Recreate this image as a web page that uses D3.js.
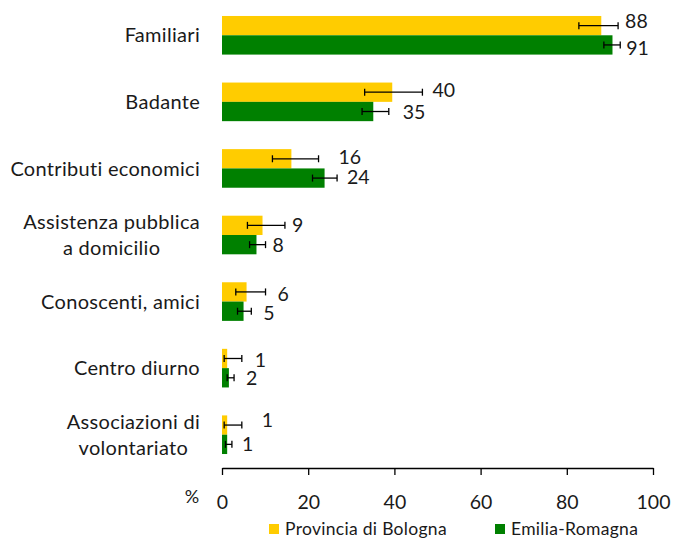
<!DOCTYPE html>
<html>
<head>
    <meta charset="UTF-8">
    <title>Aiuti</title>
    <style>
        body { margin: 0; background: #fff; }
        text { font-family: Lato, "Open Sans", sans-serif; }
    </style>
</head>
<body>
    <svg id="chart"></svg>
    <script src="https://cdn.jsdelivr.net/npm/d3@7"></script>
    <script>
        const width = 673;
        const height = 538;

        // dati
        const categories = [
            ['Familiari'],
            ['Badante'],
            ['Contributi economici'],
            ['Assistenza pubblica', 'a domicilio'],
            ['Conoscenti, amici'],
            ['Centro diurno'],
            ['Associazioni di', 'volontariato']
        ];
        const seriesNames = ['Provincia di Bologna', 'Emilia-Romagna'];
        const bologna = [88.0, 39.5, 16.1, 9.4, 5.7, 1.2, 1.2];
        const bolognaLo = [82.8, 33.1, 11.7, 5.9, 3.2, 0.5, 0.5];
        const bolognaHi = [91.9, 46.5, 22.4, 14.6, 10.1, 4.6, 4.6];
        const bolognaLabels = ['88', '40', '16', '9', '6', '1', '1'];
        const emilia = [90.6, 35.1, 23.8, 8.0, 5.0, 1.6, 1.2];
        const emiliaLo = [88.6, 32.5, 21.0, 6.4, 3.6, 1.2, 0.8];
        const emiliaHi = [92.4, 38.7, 26.7, 10.1, 6.8, 2.8, 2.3];
        const emiliaLabels = ['91', '35', '24', '8', '5', '2', '1'];
        const xTicks = [0, 20, 40, 60, 80, 100];

        // spostamenti delle etichette (px), come nell'originale
        const bolognaDx = [7, 10, 20, 7, 12, 13, 20];
        const bolognaDy = [-5, -2, -2, 0, 2, 1, -5];
        const emiliaDx = [6, 14, 10, 7, 12, 12, 10];
        const emiliaDy = [3, 0, -1, 0, 2, 0, 0];

        const colors = ['#FFCC00', '#008000'];

        const svg = d3.select('#chart')
            .attr('width', width)
            .attr('height', height);

        const x = d3.scaleLinear().domain([0, 100]).range([222, 653]);
        const y = d3.scaleBand()
            .domain(d3.range(categories.length))
            .range([2, 468])
            .paddingInner(0.42)
            .paddingOuter(0.21);
        const sub = d3.scaleBand().domain([0, 1]).range([0, y.bandwidth()]);

        const series = [
            { vals: bologna, lo: bolognaLo, hi: bolognaHi, labels: bolognaLabels, dx: bolognaDx, dy: bolognaDy },
            { vals: emilia, lo: emiliaLo, hi: emiliaHi, labels: emiliaLabels, dx: emiliaDx, dy: emiliaDy }
        ];

        series.forEach((s, si) => {
            const g = svg.append('g');
            const rows = d3.range(categories.length);

            g.selectAll('rect')
                .data(rows)
                .enter()
                .append('rect')
                .attr('x', x(0))
                .attr('y', i => y(i) + sub(si))
                .attr('width', i => x(s.vals[i]) - x(0))
                .attr('height', sub.bandwidth())
                .style('fill', colors[si]);

            const cy = i => y(i) + sub(si) + sub.bandwidth() / 2;

            g.selectAll('line.err')
                .data(rows)
                .enter()
                .append('line')
                .attr('class', 'err')
                .attr('x1', i => x(s.lo[i]))
                .attr('x2', i => x(s.hi[i]))
                .attr('y1', cy)
                .attr('y2', cy)
                .style('stroke', '#000')
                .style('stroke-width', 1.3);

            [s.lo, s.hi].forEach(arr => {
                g.selectAll(null)
                    .data(rows)
                    .enter()
                    .append('line')
                    .attr('x1', i => x(arr[i]))
                    .attr('x2', i => x(arr[i]))
                    .attr('y1', i => cy(i) - 3.5)
                    .attr('y2', i => cy(i) + 3.5)
                    .style('stroke', '#000')
                    .style('stroke-width', 1.3);
            });

            g.selectAll('text')
                .data(rows)
                .enter()
                .append('text')
                .attr('x', i => x(s.hi[i]) + s.dx[i])
                .attr('y', i => cy(i) + s.dy[i])
                .attr('dy', '0.36em')
                .style('font-size', '19.5px')
                .style('fill', '#1a1a1a')
                .text(i => s.labels[i]);
        });

        // etichette delle categorie
        const catG = svg.append('g');
        categories.forEach((lines, i) => {
            const t = catG.append('text')
                .style('font-size', '20px')
                .style('letter-spacing', '0.3px')
                .style('fill', '#1a1a1a')
                .attr('text-anchor', 'middle');
            const lh = 26;
            const c = y(i) + y.bandwidth() / 2;
            lines.forEach((ln, k) => {
                t.append('tspan')
                    .attr('y', c + (k - (lines.length - 1) / 2) * lh)
                    .attr('dy', '0.36em')
                    .text(ln);
            });
            let w = 0;
            t.selectAll('tspan').each(function () {
                w = Math.max(w, this.getComputedTextLength());
            });
            t.selectAll('tspan').attr('x', 200 - w / 2);
        });

        // asse x
        const axis = svg.append('g')
            .attr('transform', 'translate(0,468)')
            .call(d3.axisBottom(x).tickValues(xTicks).tickSize(7).tickSizeOuter(0).tickPadding(20));
        axis.select('.domain').style('stroke', '#000').style('stroke-width', 1.5);
        axis.selectAll('.tick line').style('stroke', '#000').style('stroke-width', 1.3);
        axis.selectAll('.tick text')
            .style('font-size', '19.5px')
            .style('font-family', 'Lato, sans-serif')
            .style('fill', '#1a1a1a');

        svg.append('text')
            .attr('x', 192)
            .attr('y', 497)
            .attr('dy', '0.36em')
            .attr('text-anchor', 'middle')
            .style('font-size', '18px')
            .style('fill', '#1a1a1a')
            .text('%');

        // legenda
        const legendX = [269, 495];
        seriesNames.forEach((name, i) => {
            svg.append('rect')
                .attr('x', legendX[i])
                .attr('y', 524)
                .attr('width', 10)
                .attr('height', 10)
                .style('fill', colors[i]);
            svg.append('text')
                .attr('x', legendX[i] + 16)
                .attr('y', 529)
                .attr('dy', '0.34em')
                .style('font-size', '17.5px')
                .style('letter-spacing', '0.3px')
                .style('fill', '#1a1a1a')
                .text(name);
        });
    </script>
</body>
</html>
